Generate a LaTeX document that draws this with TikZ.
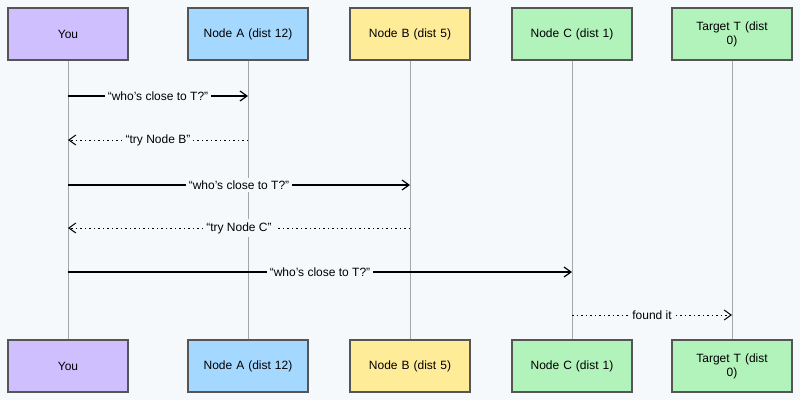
\documentclass[tikz,border=0pt]{standalone}
\usepackage{fontspec}
\setmainfont{Liberation Sans}
\usetikzlibrary{arrows.meta}
\definecolor{bg}{HTML}{F5F9FC}
\definecolor{cyou}{HTML}{D0BFFF}
\definecolor{ca}{HTML}{A5D8FF}
\definecolor{cb}{HTML}{FFEC99}
\definecolor{cc}{HTML}{B2F2BB}
\definecolor{edge}{HTML}{555555}
\begin{document}
\begin{tikzpicture}[x=1pt,y=-1pt,
  box/.style={draw=edge,line width=1.2pt,minimum width=120pt,minimum height=52pt,inner sep=2pt,font=\fontsize{12}{14}\selectfont,align=center,text width=112pt},
  life/.style={draw=gray!70,line width=0.6pt},
  msg/.style={draw=black,line width=1.2pt,-{Straight Barb[length=7pt,width=10pt]}},
  ret/.style={draw=black,line width=1pt,dash pattern=on 1.5pt off 3pt,-{Straight Barb[length=7pt,width=10pt]}},
  lbl/.style={fill=bg,font=\fontsize{12}{14}\selectfont,inner sep=3pt}]
\fill[bg] (0,0) rectangle (800,400);
\useasboundingbox (0,0) rectangle (800,400);
\foreach \n/\x/\c/\t in {y/68/cyou/You,a/248/ca/Node A (dist 12),b/410/cb/Node B (dist 5),c/572/cc/Node C (dist 1),t/732/cc/Target T (dist\\0)}{
  \node[box,fill=\c] (\n top) at (\x,34) {\t};
  \node[box,fill=\c] (\n bot) at (\x,366) {\t};
  \draw[life] (\n top.south) -- (\n bot.north);
}
\coordinate (y1) at (68,96); \coordinate (a1) at (248,96);
\coordinate (a2) at (248,140); \coordinate (y2) at (68,140);
\coordinate (y3) at (68,185); \coordinate (b3) at (410,185);
\coordinate (b4) at (410,228); \coordinate (y4) at (68,228);
\coordinate (y5) at (68,272); \coordinate (c5) at (572,272);
\coordinate (c6) at (572,315); \coordinate (t6) at (732,315);
\draw[msg] (y1) -- node[lbl]{“who’s close to T?”} (a1);
\draw[ret] (a2) -- node[lbl]{“try Node B”} (y2);
\draw[msg] (y3) -- node[lbl]{“who’s close to T?”} (b3);
\draw[ret] (b4) -- node[lbl]{“try Node C”} (y4);
\draw[msg] (y5) -- node[lbl]{“who’s close to T?”} (c5);
\draw[ret] (c6) -- node[lbl]{found it} (t6);
\end{tikzpicture}
\end{document}
